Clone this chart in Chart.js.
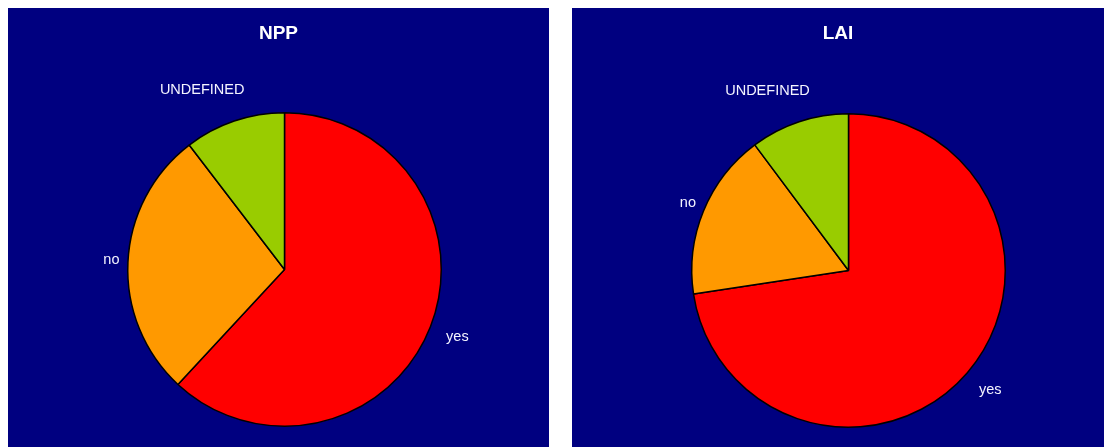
<!DOCTYPE html>
<html>
<head>
<meta charset="utf-8">
<script src="https://cdn.jsdelivr.net/npm/chart.js@4/dist/chart.umd.min.js"></script>
<style>
  body { margin: 0; background: #ffffff; width: 1104px; height: 447px; position: relative; overflow: hidden; }
  .panel { position: absolute; top: 8px; height: 439px; background: #000080; }
  #nppPanel { left: 8px; width: 541px; }
  #laiPanel { left: 572px; width: 532px; }
</style>
</head>
<body>
<div class="panel" id="nppPanel"><canvas id="nppChart" width="541" height="439"></canvas></div>
<div class="panel" id="laiPanel"><canvas id="laiChart" width="532" height="439"></canvas></div>
<script>
  // Answer categories shared by both pies
  const categories = ["yes", "no", "UNDEFINED"];
  // Share of answers (%) per variable
  const nppValues = [61.9, 27.7, 10.4];
  const laiValues = [72.6, 17.2, 10.2];
  const sliceColors = ["#ff0000", "#ff9900", "#99cc00"];

  // Title drawn at the top of each panel
  const panelTitle = {
    id: "panelTitle",
    afterDraw(chart, args, opts) {
      const ctx = chart.ctx;
      ctx.save();
      ctx.fillStyle = "#ffffff";
      ctx.font = "bold 19px 'Liberation Sans', Arial, sans-serif";
      ctx.textAlign = "center";
      ctx.textBaseline = "middle";
      ctx.fillText(opts.text, chart.width / 2, 26);
      ctx.restore();
    },
  };

  // Category names placed just outside each slice, pushed away from the rim
  const outsideLabels = {
    id: "outsideLabels",
    afterDatasetsDraw(chart, args, opts) {
      const ctx = chart.ctx;
      const arcs = chart.getDatasetMeta(0).data;
      ctx.save();
      ctx.fillStyle = "#f4f4ff";
      ctx.font = "14.5px 'Liberation Sans', Arial, sans-serif";
      ctx.textAlign = "center";
      ctx.textBaseline = "middle";
      arcs.forEach((arc, i) => {
        const mid = (arc.startAngle + arc.endAngle) / 2;
        const dist = arc.outerRadius * opts.radius[i];
        const label = chart.data.labels[i];
        const w = ctx.measureText(label).width;
        const h = 14;
        const c = Math.cos(mid);
        const s = Math.sin(mid);
        const x = arc.x + c * dist + Math.sign(c) * Math.sqrt(Math.abs(c)) * w / 2;
        const y = arc.y + s * dist + Math.sign(s) * Math.sqrt(Math.abs(s)) * h / 2;
        ctx.fillText(label, x, y);
      });
      ctx.restore();
    },
  };

  function makePie(id, title, values, padding) {
    new Chart(document.getElementById(id), {
      type: "pie",
      data: {
        labels: categories,
        datasets: [
          {
            data: values,
            backgroundColor: sliceColors,
            borderColor: "#000000",
            borderWidth: 1.5,
            borderAlign: "center",
          },
        ],
      },
      options: {
        responsive: false,
        animation: false,
        layout: { padding: padding },
        plugins: {
          legend: { display: false },
          tooltip: { enabled: false },
          panelTitle: { text: title },
          outsideLabels: { radius: [1.11, 1.054, 1.16] },
        },
      },
      plugins: [panelTitle, outsideLabels],
    });
  }

  makePie("nppChart", "NPP", nppValues, { left: 119, top: 104, right: 107, bottom: 20 });
  makePie("laiChart", "LAI", laiValues, { left: 119, top: 105, right: 98, bottom: 19 });
</script>
</body>
</html>
